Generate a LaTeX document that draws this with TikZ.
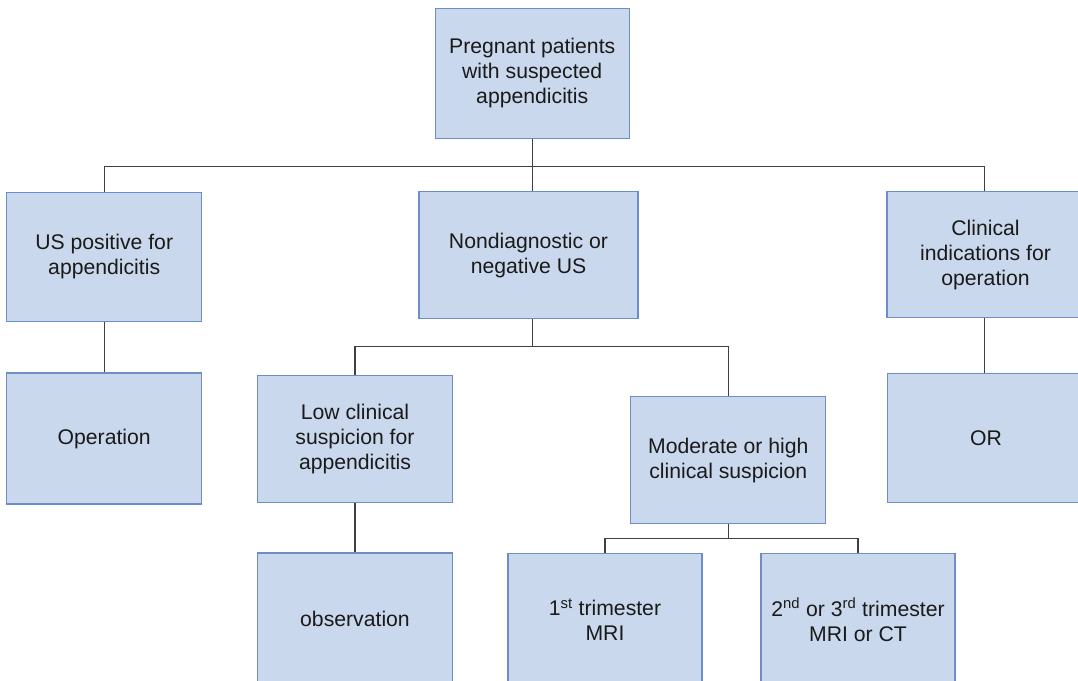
\documentclass[tikz,border=0pt]{standalone}
\usepackage{fontspec}
\setmainfont{Liberation Sans}
\definecolor{boxfill}{RGB}{201,216,236}
\definecolor{boxline}{RGB}{108,142,196}
\definecolor{linkcol}{RGB}{64,64,64}
\definecolor{txtcol}{RGB}{26,26,26}
\tikzset{
  box/.style={draw=boxline, fill=boxfill, line width=1.3pt, inner sep=0pt,
    align=center, text=txtcol, font=\fontsize{21.2}{25}\selectfont,
    minimum width=195pt, minimum height=128pt},
  link/.style={draw=linkcol, line width=1.3pt}
}
\begin{document}
\begin{tikzpicture}[x=1pt,y=-1pt]
\useasboundingbox (0,0) rectangle (1078,680);
\clip (0,0) rectangle (1078,680);
\fill[white] (0,0) rectangle (1078,680);
% boxes
\node[box, minimum width=194pt, minimum height=130pt] (top) at (532.2,73.5) {Pregnant patients\\with suspected\\appendicitis};
\node[box, minimum height=129pt] (us) at (104.2,257) {US positive for\\appendicitis};
\node[box, minimum width=219pt, minimum height=127pt] (nondiag) at (528.5,255.3) {Nondiagnostic or\\negative US};
\node[box, minimum width=197pt, minimum height=126pt] (clin) at (985.5,254.8) {Clinical\\indications for\\operation};
\node[box, minimum width=197pt, minimum height=129pt] (or) at (986,437.7) {OR};
\node[box, minimum height=131pt] (oper) at (104.2,438.6) {Operation};
\node[box, minimum height=127pt] (low) at (355,439.2) {Low clinical\\suspicion for\\appendicitis};
\node[box, minimum height=127pt] (mod) at (728.3,460.2) {Moderate or high\\clinical suspicion};
\node[box, minimum height=132pt] (obs) at (355,619) {observation};
\node[box, minimum width=194pt, minimum height=132pt] (first) at (605,619.5) {1\textsuperscript{st} trimester\\MRI};
\node[box, minimum width=194pt, minimum height=132pt] (second) at (858,619.5) {2\textsuperscript{nd} or 3\textsuperscript{rd} trimester\\MRI or CT};
% connector bars
\coordinate (bar1) at (532.7,166.7);
\coordinate (bar2) at (532.7,346.3);
\coordinate (bar3) at (728.3,538.7);
\coordinate (clinx) at (984.5,0);
% connectors
\draw[link] (top.south) -- (top.south |- bar1);
\draw[link] (us.north) -- (us.north |- bar1) -- (clinx |- bar1) -- (clinx |- clin.north);
\draw[link] (top.south |- bar1) -- (top.south |- nondiag.north);
\draw[link] (us.south) -- (oper.north);
\draw[link] (clinx |- clin.south) -- (clinx |- or.north);
\draw[link] (top.south |- nondiag.south) -- (top.south |- bar2);
\draw[link] (low.north) -- (low.north |- bar2) -- (mod.north |- bar2) -- (mod.north);
\draw[link] (low.south) -- (obs.north);
\draw[link] (mod.south) -- (mod.south |- bar3);
\draw[link] (first.north) -- (first.north |- bar3) -- (second.north |- bar3) -- (second.north);
\end{tikzpicture}
\end{document}
